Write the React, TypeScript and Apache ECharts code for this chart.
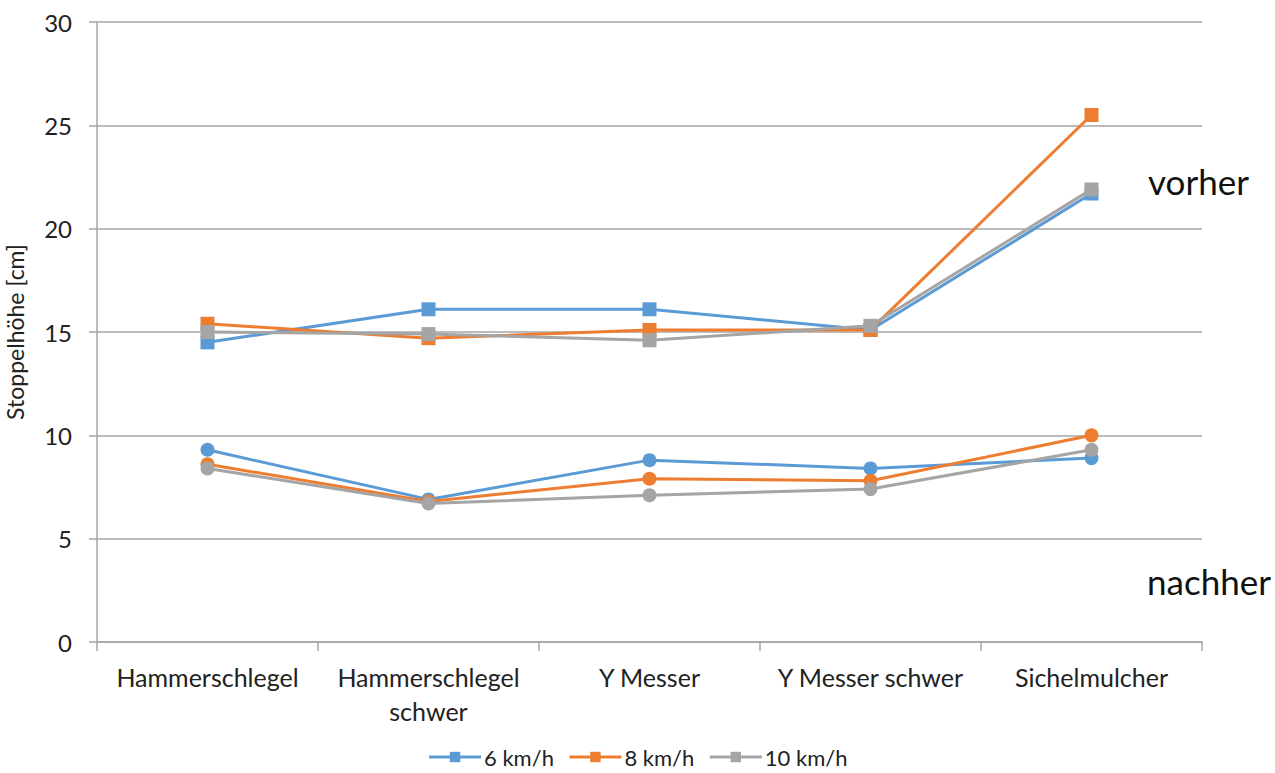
import React, { useEffect, useRef } from "react";
import * as echarts from "echarts";

const categories = ["Hammerschlegel", "Hammerschlegel\nschwer", "Y Messer", "Y Messer schwer", "Sichelmulcher"];
const seriesNames = ["6 km/h", "8 km/h", "10 km/h"];
const colors = ["#5B9BD5", "#ED7D31", "#A5A5A5"];
// vorher (before)
const vorher6 = [14.5, 16.1, 16.1, 15.1, 21.7];
const vorher8 = [15.4, 14.7, 15.1, 15.1, 25.5];
const vorher10 = [15.0, 14.9, 14.6, 15.3, 21.9];
// nachher (after)
const nachher6 = [9.3, 6.9, 8.8, 8.4, 8.9];
const nachher8 = [8.6, 6.8, 7.9, 7.8, 10.0];
const nachher10 = [8.4, 6.7, 7.1, 7.4, 9.3];
const yTicks = [0, 5, 10, 15, 20, 25, 30];

const FONT = "Lato, 'Open Sans', sans-serif";

export default function App() {
  const ref = useRef<HTMLDivElement>(null);
  useEffect(() => {
    if (!ref.current) return;
    const chart = echarts.init(ref.current, null, { renderer: "svg" });
    const vorher = [vorher6, vorher8, vorher10];
    const nachher = [nachher6, nachher8, nachher10];
    const mk = (name: string, data: number[], color: string, symbol: string, z: number) => ({
      type: "line",
      name,
      data,
      symbol,
      symbolSize: 14,
      showSymbol: true,
      itemStyle: { color },
      lineStyle: { color, width: 3 },
      z,
    });
    const series: any[] = [];
    for (let i = 0; i < 3; i++) series.push(mk(seriesNames[i], vorher[i], colors[i], "rect", 2 + i));
    for (let i = 0; i < 3; i++) series.push(mk(seriesNames[i], nachher[i], colors[i], "circle", 2 + i));
    chart.setOption({
      animation: false,
      textStyle: { fontFamily: FONT },
      grid: { left: 97, right: 73, top: 22, bottom: 131, outerBoundsMode: "none", containLabel: false },
      legend: {
        bottom: 0,
        left: "center",
        data: seriesNames,
        itemWidth: 52,
        itemHeight: 13,
        itemGap: 14,
        itemStyle: { borderWidth: 0 },
        lineStyle: { width: 3 },
        textStyle: { fontSize: 22, color: "#222", fontFamily: FONT, padding: [0, 0, 0, -2] },
      },
      xAxis: {
        type: "category",
        data: categories,
        boundaryGap: true,
        axisLine: { lineStyle: { color: "#A6A6A6", width: 1.5 } },
        axisTick: { show: true, length: 9, lineStyle: { color: "#A6A6A6", width: 1.5 } },
        axisLabel: { fontSize: 25, color: "#222", lineHeight: 34, margin: 18, fontFamily: FONT, interval: 0 },
      },
      yAxis: {
        type: "value",
        min: 0,
        max: 30,
        interval: 5,
        name: "Stoppelhöhe [cm]",
        nameLocation: "middle",
        nameGap: 70,
        nameTextStyle: { fontSize: 23, lineHeight: 24, color: "#222", fontFamily: FONT },
        axisLine: { show: true, lineStyle: { color: "#A6A6A6", width: 1.5 } },
        axisTick: { show: true, length: 8, lineStyle: { color: "#A6A6A6", width: 1.5 } },
        splitLine: { lineStyle: { color: "#A6A6A6", width: 1.5 } },
        axisLabel: {
          fontSize: 24,
          color: "#222",
          margin: 25,
          fontFamily: FONT,
          formatter: (v: number) => (yTicks.includes(v) ? String(v) : ""),
        },
      },
      graphic: [
        { type: "text", left: 1148, top: 163, style: { text: "vorher", fontSize: 35, fill: "#111", fontFamily: FONT } },
        { type: "text", left: 1147, top: 563, style: { text: "nachher", fontSize: 35, fill: "#111", fontFamily: FONT } },
      ],
      series,
    });
    return () => chart.dispose();
  }, []);
  return <div ref={ref} style={{ width: 1275, height: 773, position: "absolute", left: 0, top: 0 }} />;
}
